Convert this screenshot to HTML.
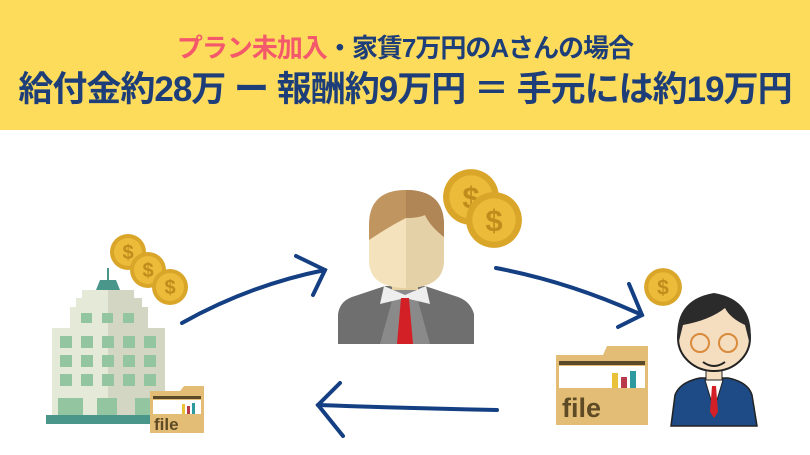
<!DOCTYPE html>
<html><head><meta charset="utf-8"><style>
body{margin:0;width:810px;height:455px;overflow:hidden;background:#fff;font-family:"Liberation Sans","Noto Sans CJK JP",sans-serif}
.hd{position:absolute;left:0;top:0;width:810px;height:130px;background:#fddc5c}
.l1{position:absolute;top:32px;width:810px;text-align:center;font-size:26px;line-height:32px;font-weight:bold;color:#1d3e78;letter-spacing:-1px}
.l2{position:absolute;top:70px;width:810px;text-align:center;font-size:35px;line-height:40px;font-weight:bold;color:#1d3e78;letter-spacing:-1px}
svg{position:absolute;left:0;top:0}
</style></head><body>
<div class="hd"></div>
<div class="l1"><span style="color:#f4586b">プラン未加入</span>・家賃7万円のAさんの場合</div>
<div class="l2">給付金約28万 ー 報酬約9万円 ＝ 手元には約19万円</div>
<svg width="810" height="455" viewBox="0 0 810 455">
<defs>
<g id="coin"><circle r="18" fill="#d9a62a"/><circle r="14" fill="#ecbb3a"/><text x="0" y="7" text-anchor="middle" font-size="20" font-weight="bold" fill="#c08d1d" font-family="Liberation Sans">$</text></g>
</defs>
<use href="#coin" transform="translate(128,252)"/>
<use href="#coin" transform="translate(148,270)"/>
<use href="#coin" transform="translate(170,287)"/>
<path d="M108 268 L108 280" stroke="#4a968a" stroke-width="2"/>
<polygon points="96,290 120,290 116,280 100,280" fill="#4a968a"/>
<polygon points="82,290 134,290 134,298 142,298 142,307 148,307 148,328 165,328 165,415 52,415 52,328 70,328 70,307 76,307 76,298 82,298" fill="#e4e9d8"/>
<polygon points="108,290 134,290 134,298 142,298 142,307 148,307 148,328 165,328 165,415 108,415" fill="#d2d6c2"/>
<g fill="#93c6a0">
<rect x="81" y="313" width="11" height="10"/><rect x="102" y="313" width="11" height="10"/><rect x="123" y="313" width="11" height="10"/>
<rect x="60" y="336" width="12" height="12"/><rect x="81" y="336" width="12" height="12"/><rect x="102" y="336" width="12" height="12"/><rect x="123" y="336" width="12" height="12"/><rect x="144" y="336" width="12" height="12"/>
<rect x="60" y="355" width="12" height="12"/><rect x="81" y="355" width="12" height="12"/><rect x="102" y="355" width="12" height="12"/><rect x="123" y="355" width="12" height="12"/><rect x="144" y="355" width="12" height="12"/>
<rect x="60" y="374" width="12" height="12"/><rect x="81" y="374" width="12" height="12"/><rect x="102" y="374" width="12" height="12"/><rect x="123" y="374" width="12" height="12"/><rect x="144" y="374" width="12" height="12"/>
<rect x="58" y="398" width="25" height="17"/><rect x="97" y="398" width="20" height="17"/><rect x="135" y="398" width="15" height="17"/>
</g>
<rect x="46" y="415" width="108" height="9" fill="#4a968a"/>
<polygon points="150,391 180,391 184,386 204,386 204,433 150,433" fill="#e3bd76"/>
<rect x="153" y="396" width="48" height="3" fill="#5a4a2a"/>
<rect x="153" y="400" width="48" height="14" fill="#fff"/>
<rect x="182" y="404" width="3" height="10" fill="#e9c23a"/><rect x="187" y="406" width="3" height="8" fill="#b83a4a"/><rect x="192" y="403" width="3" height="11" fill="#2d9aa0"/>
<text x="154" y="430" font-size="17" font-weight="bold" fill="#5e4b25" font-family="Liberation Sans">file</text>
<g transform="translate(471,197) scale(1.55)"><use href="#coin"/></g>
<g transform="translate(494,220) scale(1.55)"><use href="#coin"/></g>
<path d="M338 344 L338 314 Q340 300 355 296 L385 286 L425 286 L455 296 Q470 300 474 314 L474 344 Z" fill="#6f6f6f"/>
<path d="M395 290 L415 290 L430 344 L380 344 Z" fill="#8a8a8a"/>
<polygon points="384,286 405,295 426,286 430,304 405,298 380,304" fill="#eeeeee"/>
<polygon points="401,298 409,298 413,344 397,344" fill="#d32026"/>
<rect x="392" y="270" width="26" height="20" fill="#e6cfa0"/>
<path d="M369 230 Q369 190 406 190 Q444 190 444 230 L444 260 Q444 288 406 288 Q369 288 369 260 Z" fill="#f3e2bb"/>
<path d="M406 190 Q444 190 444 230 L444 260 Q444 288 406 288 Z" fill="#e5d1a8"/>
<path d="M369 240 L369 225 Q369 190 406 190 Q444 190 444 225 L444 237 Q430 226 425 215 Q418 218 406 218 Q390 226 369 240 Z" fill="#c09560"/>
<path d="M406 190 Q444 190 444 225 L444 237 Q430 226 425 215 Q418 218 406 218 Z" fill="#b08656"/>
<g fill="none" stroke="#143f82" stroke-width="4" stroke-linecap="round">
<path d="M182 323 Q250 285 325 270"/>
<path d="M296 256 L325 270 L313 295"/>
<path d="M496 268 Q570 282 642 315"/>
<path d="M629 284 L642 315 L618 327"/>
<path d="M497 410 Q400 408 318 405"/>
<path d="M340 383 L318 405 L343 436"/>
</g>
<g transform="translate(663,287) scale(1.05)"><use href="#coin"/></g>
<polygon points="556,355 603,355 607,346 648,346 648,425 556,425" fill="#e3bd76"/>
<rect x="559" y="361" width="86" height="4" fill="#5a4a2a"/>
<rect x="559" y="366" width="86" height="22" fill="#fff"/>
<rect x="612" y="373" width="6" height="15" fill="#e9c23a"/><rect x="621" y="377" width="6" height="11" fill="#b83a4a"/><rect x="630" y="371" width="6" height="17" fill="#2d9aa0"/>
<text x="562" y="417" font-size="27" font-weight="bold" fill="#5e4b25" font-family="Liberation Sans">file</text>
<path d="M671 426 L675 395 Q680 382 700 378 L728 378 Q748 382 752 395 L757 426 Z" fill="#1e4a86" stroke="#222" stroke-width="1.5"/>
<polygon points="705,380 723,380 714,410" fill="#fff" stroke="#222"/>
<polygon points="712,386 716,386 718,412 714,418 710,412" fill="#d32026"/>
<rect x="706" y="362" width="16" height="18" fill="#f5ddc0" stroke="#222"/>
<ellipse cx="714" cy="338" rx="36" ry="33" fill="#f5ddc0" stroke="#222" stroke-width="2"/>
<path d="M678 345 Q672 300 714 293 Q756 300 750 345 L745 325 Q730 318 725 308 Q710 320 683 325 Z" fill="#2b2b2b"/>
<circle cx="700" cy="343" r="9" fill="none" stroke="#d98a3a" stroke-width="2"/>
<circle cx="728" cy="343" r="9" fill="none" stroke="#d98a3a" stroke-width="2"/>
<path d="M703 362 Q714 370 725 362" fill="none" stroke="#222" stroke-width="2"/>
</svg>
</body></html>
